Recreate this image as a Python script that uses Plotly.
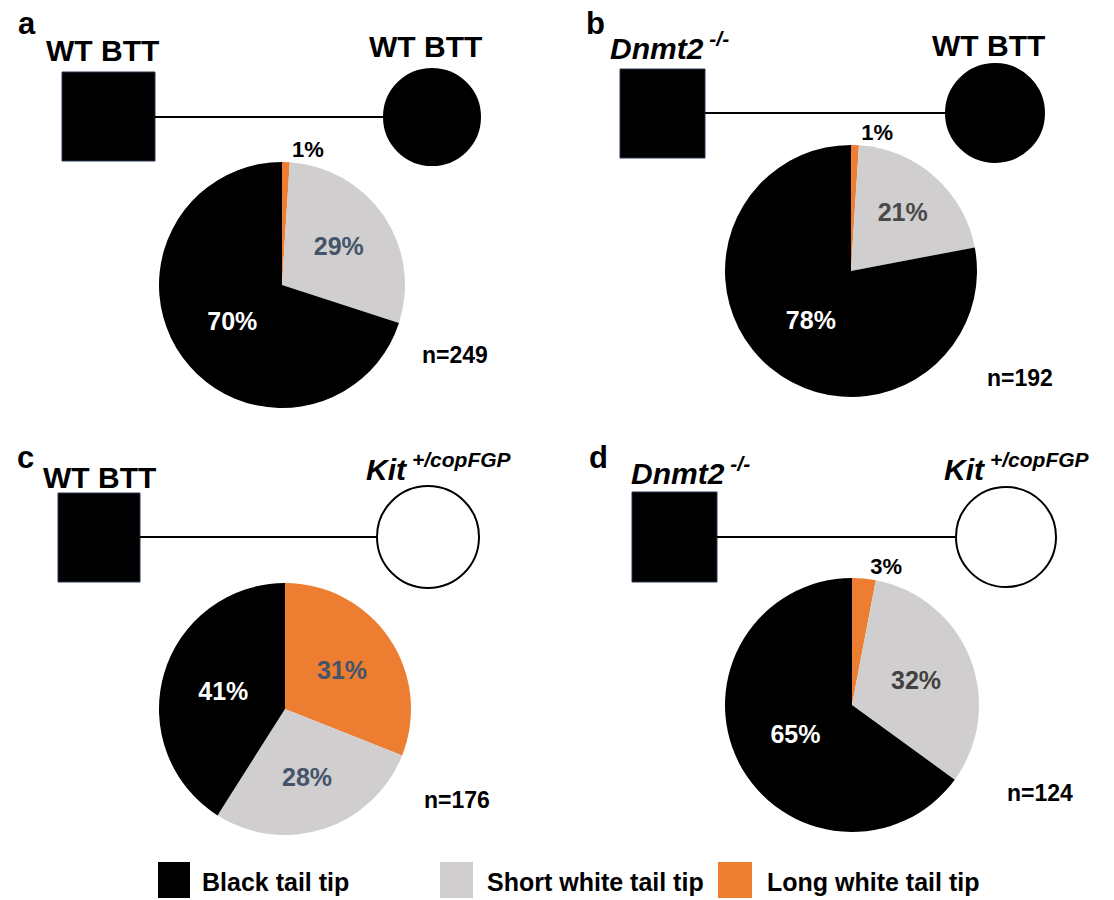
import plotly.graph_objects as go

W, H = 1114, 900

# ---------------- data ----------------
categories = ["Long white tail tip", "Short white tail tip", "Black tail tip"]
slice_colors = ["#ED7D31", "#D0CECE", "#000000"]
panel_letters = ["a", "b", "c", "d"]
pct_a = [1, 29, 70]
pct_b = [1, 21, 78]
pct_c = [31, 28, 41]
pct_d = [3, 32, 65]
n_counts = [249, 192, 176, 124]
sire_labels = ["WT BTT", "<i>Dnmt2&#8201;<sup>-/-</sup></i>", "WT BTT", "<i>Dnmt2&#8201;<sup>-/-</sup></i>"]
dam_labels = ["WT BTT", "WT BTT", "<i>Kit&#8201;<sup>+/copFGP</sup></i>", "<i>Kit&#8201;<sup>+/copFGP</sup></i>"]
dam_filled = [True, True, False, False]
legend_labels = ["Black tail tip", "Short white tail tip", "Long white tail tip"]
legend_colors = ["#000000", "#D0CECE", "#ED7D31"]

FONT = "Liberation Sans, Arial, Helvetica, sans-serif"


def px(x):
    return x / W


def py(y):
    return 1 - y / H


# ---------------- layout geometry (pixels) ----------------
pie_geom = [(282, 285, 123), (851, 271, 126), (285, 709, 126), (852, 705, 127)]
label_colors = [
    ["#000000", "#44546A", "#FFFFFF"],
    ["#000000", "#4A4A4A", "#FFFFFF"],
    ["#44546A", "#44546A", "#FFFFFF"],
    ["#000000", "#404040", "#FFFFFF"],
]
letter_pos = [(27, 23), (595, 23), (25, 458), (598, 458)]
sire_pos = [(102, 51), (669, 46), (99, 477), (690, 471)]
dam_pos = [(425, 47), (988, 45), (439, 467), (1017, 467)]
square_box = [(62, 72, 155, 161), (620, 69, 705, 158), (58, 493, 140, 582), (632, 492, 717, 582)]
circle_c = [(432, 117, 48), (995, 113, 49), (428, 537, 51), (1006, 537, 50)]
n_pos = [(455, 355), (1020, 378), (457, 800), (1040, 793)]

fig = go.Figure()

pcts = [pct_a, pct_b, pct_c, pct_d]
for i, vals in enumerate(pcts):
    cx, cy, r = pie_geom[i]
    tpos = ["outside" if v < 5 else "inside" for v in vals]
    fig.add_trace(go.Pie(
        labels=categories,
        values=vals,
        sort=False,
        direction="clockwise",
        rotation=0,
        marker=dict(colors=slice_colors, line=dict(width=0)),
        texttemplate="<b>%{value}%</b>",
        textposition=tpos,
        insidetextorientation="horizontal",
        insidetextfont=dict(family=FONT, size=25, color=label_colors[i]),
        outsidetextfont=dict(family=FONT, size=22, color="#000000"),
        hoverinfo="label+value",
        showlegend=False,
        domain=dict(x=[px(cx - r), px(cx + r)], y=[py(cy + r), py(cy - r)]),
    ))

shapes = []
annotations = []


def add_text(text, x, y, size, xanchor="center"):
    annotations.append(dict(text=text, x=px(x), y=py(y), xref="paper", yref="paper",
                            xanchor=xanchor, yanchor="middle", showarrow=False,
                            font=dict(family=FONT, size=size, color="#000000")))


for i in range(4):
    x0, y0, x1, y1 = square_box[i]
    shapes.append(dict(type="rect", xref="paper", yref="paper",
                       x0=px(x0), x1=px(x1), y0=py(y1), y1=py(y0),
                       fillcolor="#000000", line=dict(color="#2B3552", width=1)))
    ccx, ccy, cr = circle_c[i]
    shapes.append(dict(type="line", xref="paper", yref="paper",
                       x0=px(x1), x1=px(ccx - cr), y0=py(ccy), y1=py(ccy),
                       line=dict(color="#000000", width=2)))
    shapes.append(dict(type="circle", xref="paper", yref="paper",
                       x0=px(ccx - cr), x1=px(ccx + cr), y0=py(ccy + cr), y1=py(ccy - cr),
                       fillcolor="#000000" if dam_filled[i] else "#FFFFFF",
                       line=dict(color="#000000", width=2)))
    lx, ly = letter_pos[i]
    add_text("<b>%s</b>" % panel_letters[i], lx, ly, 31)
    sx, sy = sire_pos[i]
    add_text("<b>%s</b>" % sire_labels[i], sx, sy, 30)
    dx, dy = dam_pos[i]
    add_text("<b>%s</b>" % dam_labels[i], dx, dy, 30)
    nx, ny = n_pos[i]
    add_text("<b>n=%d</b>" % n_counts[i], nx, ny, 23)

# custom legend row
leg_sq = [(158, 190), (440, 473), (718, 752)]
leg_txt_x = [200, 485, 765]
for j in range(3):
    a, b = leg_sq[j]
    shapes.append(dict(type="rect", xref="paper", yref="paper",
                       x0=px(a), x1=px(b), y0=py(898), y1=py(862),
                       fillcolor=legend_colors[j], line=dict(width=0)))
    add_text("<b>%s</b>" % legend_labels[j], leg_txt_x[j], 882, 25, xanchor="left")

fig.update_layout(
    width=W, height=H,
    margin=dict(l=0, r=0, t=0, b=0),
    paper_bgcolor="#FFFFFF",
    plot_bgcolor="#FFFFFF",
    shapes=shapes,
    annotations=annotations,
)

fig.write_html("out.html", config={"displayModeBar": False},
               post_script="document.body.style.margin='0px';")
